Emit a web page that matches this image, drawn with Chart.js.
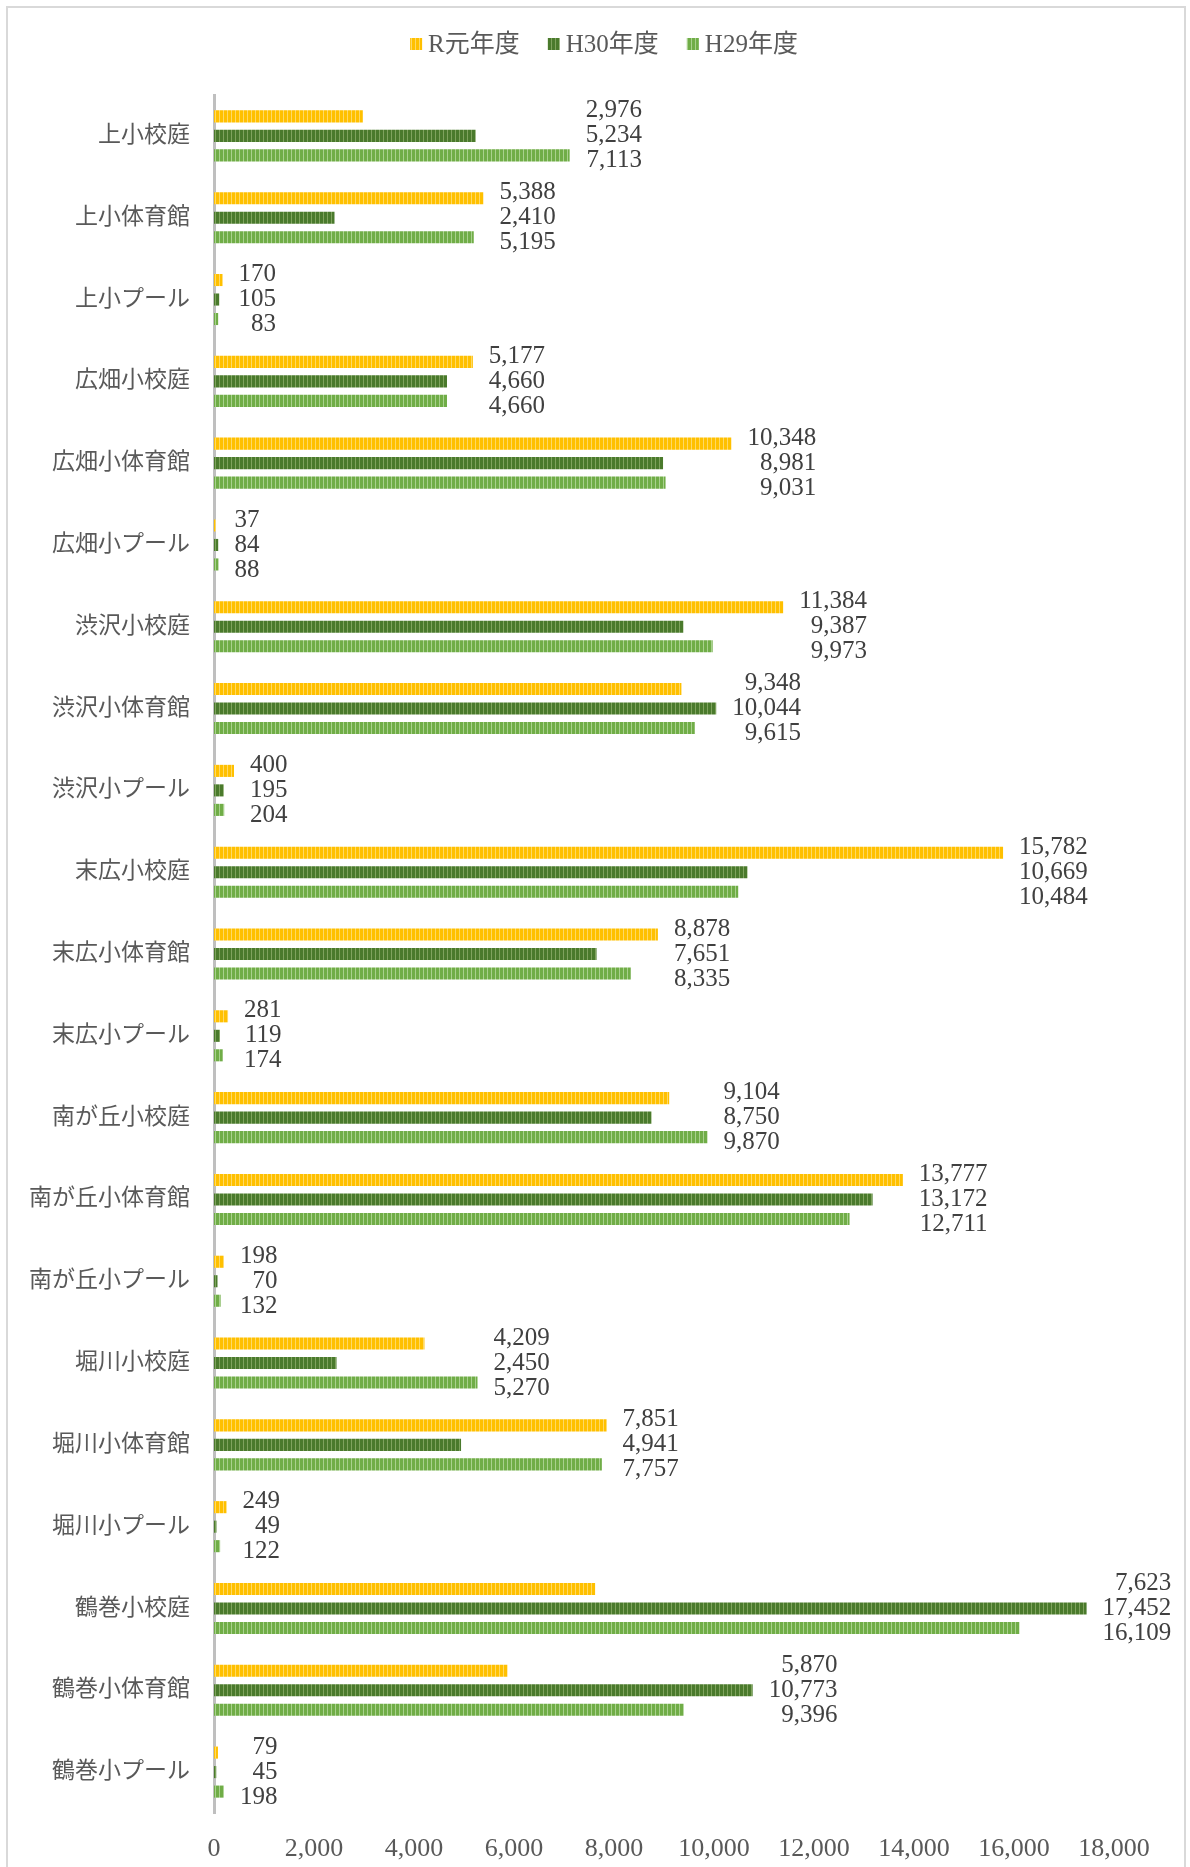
<!DOCTYPE html>
<html>
<head>
<meta charset="utf-8">
<script src="https://cdn.jsdelivr.net/npm/chart.js@4.4.1/dist/chart.umd.min.js"></script>
<style>
  html, body { margin: 0; padding: 0; background: #ffffff; }
  #wrap { position: relative; width: 1190px; height: 1867px; }
</style>
</head>
<body>
<div id="wrap"><canvas id="c"></canvas></div>
<script>
const categories = ['上小校庭','上小体育館','上小プール','広畑小校庭','広畑小体育館','広畑小プール','渋沢小校庭','渋沢小体育館','渋沢小プール','末広小校庭','末広小体育館','末広小プール','南が丘小校庭','南が丘小体育館','南が丘小プール','堀川小校庭','堀川小体育館','堀川小プール','鶴巻小校庭','鶴巻小体育館','鶴巻小プール'];
const seriesNames = ['R元年度','H30年度','H29年度'];
const valuesR1  = [2976,5388,170,5177,10348,37,11384,9348,400,15782,8878,281,9104,13777,198,4209,7851,249,7623,5870,79];
const valuesH30 = [5234,2410,105,4660,8981,84,9387,10044,195,10669,7651,119,8750,13172,70,2450,4941,49,17452,10773,45];
const valuesH29 = [7113,5195,83,4660,9031,88,9973,9615,204,10484,8335,174,9870,12711,132,5270,7757,122,16109,9396,198];
const xTickMin = 0, xTickMax = 18000, xTickStep = 2000;

const SERIF = "'Liberation Serif', 'Noto Sans CJK JP', serif";

function stripe(base, light) {
  const c = document.createElement('canvas');
  c.width = 4; c.height = 4;
  const g = c.getContext('2d');
  g.fillStyle = base; g.fillRect(0, 0, 4, 4);
  g.fillStyle = light; g.fillRect(3, 0, 1, 4);
  return g.createPattern(c, 'repeat');
}
const fills = [
  stripe('#FFC000', '#FFD966'),
  stripe('#4A7A2C', '#7FA35E'),
  stripe('#70AD47', '#A9D18E')
];

const borderPlugin = {
  id: 'frame',
  beforeDraw(chart) {
    const ctx = chart.ctx;
    ctx.save();
    ctx.strokeStyle = '#d9d9d9';
    ctx.lineWidth = 2;
    ctx.strokeRect(7, 7, 1178, 2000);
    ctx.restore();
  }
};

const legendPlugin = {
  id: 'customLegend',
  afterDraw(chart) {
    const ctx = chart.ctx;
    ctx.save();
    ctx.font = '25px ' + SERIF;
    ctx.textBaseline = 'middle';
    const box = 12, gap = 6, spacing = 28;
    const items = chart.data.datasets.map((ds, i) => ({ text: ds.label, w: ctx.measureText(ds.label).width, fill: ds.backgroundColor }));
    let total = 0;
    items.forEach((it, i) => { total += box + gap + it.w + (i < items.length - 1 ? spacing : 0); });
    let x = 604 - total / 2;
    const y = 44;
    items.forEach(it => {
      ctx.fillStyle = it.fill;
      ctx.fillRect(x, y - box / 2, box, box);
      x += box + gap;
      ctx.fillStyle = '#595959';
      ctx.textAlign = 'left';
      ctx.fillText(it.text, x, y + 1);
      x += it.w + spacing;
    });
    ctx.restore();
  }
};

const valueLabelPlugin = {
  id: 'valueLabels',
  afterDatasetsDraw(chart) {
    const ctx = chart.ctx;
    ctx.save();
    ctx.font = '25px ' + SERIF;
    ctx.fillStyle = '#404040';
    ctx.textBaseline = 'middle';
    ctx.textAlign = 'right';
    const n = chart.data.labels.length;
    const nd = chart.data.datasets.length;
    for (let i = 0; i < n; i++) {
      let maxX = -Infinity, maxW = 0;
      const texts = [];
      for (let d = 0; d < nd; d++) {
        const bar = chart.getDatasetMeta(d).data[i];
        maxX = Math.max(maxX, bar.x);
        const t = chart.data.datasets[d].data[i].toLocaleString('en-US');
        texts.push(t);
        maxW = Math.max(maxW, ctx.measureText(t).width);
      }
      const mid = chart.getDatasetMeta(1).data[i].y;
      const right = maxX + 16 + maxW;
      for (let d = 0; d < nd; d++) {
        ctx.fillText(texts[d], right, mid + (d - 1) * 25);
      }
    }
    ctx.restore();
  }
};

new Chart(document.getElementById('c'), {
  type: 'bar',
  data: {
    labels: categories,
    datasets: [
      { label: seriesNames[0], data: valuesR1,  backgroundColor: fills[0] },
      { label: seriesNames[1], data: valuesH30, backgroundColor: fills[1] },
      { label: seriesNames[2], data: valuesH29, backgroundColor: fills[2] }
    ]
  },
  options: {
    indexAxis: 'y',
    responsive: true,
    maintainAspectRatio: false,
    animation: false,
    categoryPercentage: 0.715,
    barPercentage: 0.62,
    layout: { padding: { top: 95, right: 76, bottom: 0, left: 0 } },
    plugins: {
      legend: { display: false },
      tooltip: { enabled: false }
    },
    scales: {
      x: {
        min: xTickMin, max: xTickMax,
        grid: { display: false, drawTicks: false },
        border: { display: false },
        ticks: {
          stepSize: xTickStep,
          padding: 21,
          color: '#595959',
          font: { family: SERIF, size: 26 },
          maxRotation: 0,
          callback: v => Number(v).toLocaleString('en-US')
        },
        afterFit(scale) { scale.height = 54; }
      },
      y: {
        grid: { display: false, drawTicks: false },
        border: { display: true, color: '#bfbfbf', width: 3 },
        ticks: {
          padding: 24,
          color: '#595959',
          font: { family: SERIF, size: 23 },
          autoSkip: false
        },
        afterFit(scale) { scale.width = 214; }
      }
    }
  },
  plugins: [borderPlugin, legendPlugin, valueLabelPlugin]
});
</script>
</body>
</html>
